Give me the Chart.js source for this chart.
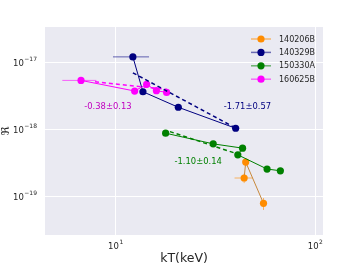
<!DOCTYPE html>
<html>
<head>
<meta charset="utf-8">
<script src="https://cdn.jsdelivr.net/npm/chart.js@4"></script>
<style>
  html, body { margin: 0; padding: 0; background: #ffffff; }
  #wrap { width: 360px; height: 270px; }
</style>
</head>
<body>
<div id="wrap"><canvas id="myChart" width="360" height="270"></canvas></div>
<script>
const grbNames = ['140206B', '140329B', '150330A', '160625B'];
const grbColors = ['#ff8c00', '#000080', '#008000', '#ff00ff'];

// kT (keV) and R for each burst
const kT_140206B = [44.0, 44.8, 55.0];
const R_140206B = [1.88e-19, 3.25e-19, 7.87e-20];
const kTerr_140206B = [4.6, 0, 0];
const Rerr_140206B = [0.3e-19, 0.45e-19, 1.6e-20];

const kT_140329B = [12.2, 13.7, 20.6, 39.9];
const R_140329B = [1.21e-17, 3.65e-18, 2.14e-18, 1.04e-18];
const kTerr_140329B = [2.5, 0, 0, 0];
const Rerr_140329B = [0, 0, 0, 0];

const kT_150330A = [17.8, 30.8, 43.2, 40.9, 57.3, 66.8];
const R_150330A = [8.77e-19, 6.08e-19, 5.25e-19, 4.17e-19, 2.56e-19, 2.41e-19];
const kTerr_150330A = [0, 0, 0, 0, 0, 0];
const Rerr_150330A = [0, 0, 0, 0, 0, 0];

const kT_160625B = [6.71, 12.45, 14.3, 16.0, 18.0];
const R_160625B = [5.39e-18, 3.74e-18, 4.71e-18, 3.78e-18, 3.57e-18];
const kTerr_160625B = [1.3, 0, 0, 0, 0];
const Rerr_160625B = [0, 0, 0, 0, 0];

// dashed power-law fits (end points)
const fitKT_140329B = [12.2, 38.7];
const fitR_140329B = [7.0e-18, 1.10e-18];
const fitKT_150330A = [18.7, 41.0];
const fitR_150330A = [9.27e-19, 4.27e-19];
const fitKT_160625B = [7.88, 18.0];
const fitR_160625B = [5.14e-18, 3.96e-18];

const slopeLabels = ['-1.71\u00b10.57', '-1.10\u00b10.14', '-0.38\u00b10.13'];
const slopeColors = ['#000080', '#008000', '#c000c0'];
const slopeKT = [45.7, 25.9, 9.15];
const slopeR = [2.14e-18, 3.28e-19, 2.18e-18];

const xTicks = [10, 100];
const yTicks = [1e-19, 1e-18, 1e-17];
const xTickExp = ['1', '2'];
const yTickExp = ['\u221219', '\u221218', '\u221217'];

function pts(xs, ys) {
    return xs.map((x, i) => ({x: x, y: ys[i]}));
}

const series = [
    {kT: kT_140206B, R: R_140206B, xe: kTerr_140206B, ye: Rerr_140206B, line: '#c8893c'},
    {kT: kT_140329B, R: R_140329B, xe: kTerr_140329B, ye: Rerr_140329B, line: '#000080'},
    {kT: kT_150330A, R: R_150330A, xe: kTerr_150330A, ye: Rerr_150330A, line: '#008000'},
    {kT: kT_160625B, R: R_160625B, xe: kTerr_160625B, ye: Rerr_160625B, line: '#ff00ff'}
];

const datasets = [];
series.forEach((s, i) => {
    datasets.push({
        label: grbNames[i],
        data: pts(s.kT, s.R),
        showLine: true,
        borderColor: s.line,
        borderWidth: 1,
        backgroundColor: grbColors[i],
        pointBackgroundColor: grbColors[i],
        pointBorderWidth: 0,
        pointRadius: 3.6,
        errX: s.xe,
        errY: s.ye,
        order: 4 - i
    });
});
[[fitKT_140329B, fitR_140329B, '#000080'], [fitKT_150330A, fitR_150330A, '#008000'], [fitKT_160625B, fitR_160625B, '#ff00ff']].forEach(f => {
    datasets.push({
        label: 'fit',
        data: pts(f[0], f[1]),
        showLine: true,
        borderColor: f[2],
        borderWidth: 1.5,
        borderDash: [4, 3],
        pointRadius: 0,
        order: 0
    });
});

function lighten(hex, a) {
    const r = parseInt(hex.slice(1, 3), 16), g = parseInt(hex.slice(3, 5), 16), b = parseInt(hex.slice(5, 7), 16);
    return 'rgba(' + r + ',' + g + ',' + b + ',' + a + ')';
}

const errorBars = {
    id: 'errorBars',
    beforeDatasetsDraw(chart) {
        const ctx = chart.ctx, xs = chart.scales.x, ys = chart.scales.y;
        ctx.save();
        chart.data.datasets.forEach((ds, di) => {
            if (!ds.errX) return;
            ctx.strokeStyle = lighten(grbColors[di], 0.6);
            ctx.lineWidth = 1;
            ds.data.forEach((p, i) => {
                const px = xs.getPixelForValue(p.x), py = ys.getPixelForValue(p.y);
                if (ds.errX[i]) {
                    ctx.beginPath();
                    ctx.moveTo(xs.getPixelForValue(p.x - ds.errX[i]), py);
                    ctx.lineTo(xs.getPixelForValue(p.x + ds.errX[i]), py);
                    ctx.stroke();
                }
                if (ds.errY[i]) {
                    ctx.beginPath();
                    ctx.moveTo(px, ys.getPixelForValue(p.y - ds.errY[i]));
                    ctx.lineTo(px, ys.getPixelForValue(p.y + ds.errY[i]));
                    ctx.stroke();
                }
            });
        });
        ctx.restore();
    }
};

const extras = {
    id: 'extras',
    afterDraw(chart) {
        const ctx = chart.ctx, xs = chart.scales.x, ys = chart.scales.y;
        ctx.save();
        // tick labels as 10 with a raised exponent
        ctx.fillStyle = '#262626';
        ctx.textBaseline = 'alphabetic';
        yTicks.forEach((v, i) => {
            const py = ys.getPixelForValue(v);
            ctx.font = '6px "DejaVu Sans"';
            const ew = ctx.measureText(yTickExp[i]).width;
            ctx.textAlign = 'right';
            ctx.fillText(yTickExp[i], 37, py - 1);
            ctx.font = '8.5px "DejaVu Sans"';
            ctx.fillText('10', 37 - ew - 0.5, py + 3.5);
        });
        xTicks.forEach((v, i) => {
            const px = xs.getPixelForValue(v);
            ctx.font = '8.5px "DejaVu Sans"';
            const bw = ctx.measureText('10').width;
            ctx.font = '6px "DejaVu Sans"';
            const ew = ctx.measureText(xTickExp[i]).width;
            const x0 = px - (bw + ew + 0.5) / 2;
            ctx.textAlign = 'left';
            ctx.font = '8.5px "DejaVu Sans"';
            ctx.fillText('10', x0, 249);
            ctx.font = '6px "DejaVu Sans"';
            ctx.fillText(xTickExp[i], x0 + bw + 0.5, 244);
        });
        // slope annotations
        ctx.font = '8.4px "DejaVu Sans"';
        ctx.textAlign = 'center';
        ctx.textBaseline = 'middle';
        slopeLabels.forEach((t, i) => {
            ctx.fillStyle = slopeColors[i];
            ctx.fillText(t, xs.getPixelForValue(slopeKT[i]), ys.getPixelForValue(slopeR[i]));
        });
        // legend
        const lx = 251, ly = 39, step = 13.4;
        ctx.font = '8px "DejaVu Sans"';
        grbNames.forEach((n, i) => {
            const y = ly + i * step;
            ctx.strokeStyle = lighten(grbColors[i], 0.55);
            ctx.lineWidth = 1.5;
            ctx.beginPath();
            ctx.moveTo(lx, y);
            ctx.lineTo(lx + 20, y);
            ctx.stroke();
            ctx.fillStyle = grbColors[i];
            ctx.beginPath();
            ctx.arc(lx + 10, y, 3.6, 0, Math.PI * 2);
            ctx.fill();
            ctx.fillStyle = '#262626';
            ctx.textAlign = 'left';
            ctx.fillText(n, lx + 28, y + 0.5);
        });
        ctx.restore();
    }
};

const config = {
    type: 'scatter',
    data: {datasets: datasets},
    options: {
        responsive: false,
        animation: false,
        layout: {padding: {left: 0, top: 27, right: 37, bottom: 0}},
        plugins: {
            legend: {display: false},
            tooltip: {enabled: false}
        },
        scales: {
            x: {
                type: 'logarithmic',
                min: 4.43,
                max: 109.2,
                afterBuildTicks: axis => { axis.ticks = xTicks.map(v => ({value: v})); },
                afterFit: axis => { axis.height = 35; },
                ticks: {display: false},
                grid: {color: '#ffffff', lineWidth: 1, drawTicks: false},
                border: {display: false},
                title: {
                    display: true,
                    text: 'kT(keV)',
                    color: '#262626',
                    font: {family: 'DejaVu Sans', size: 12.5},
                    padding: {top: 0, bottom: 4}
                }
            },
            y: {
                type: 'logarithmic',
                min: 2.65e-20,
                max: 3.38e-17,
                afterBuildTicks: axis => { axis.ticks = yTicks.map(v => ({value: v})); },
                afterFit: axis => { axis.width = 45; },
                ticks: {display: false},
                grid: {color: '#ffffff', lineWidth: 1, drawTicks: false},
                border: {display: false},
                title: {
                    display: true,
                    text: '\u211c',
                    color: '#262626',
                    font: {family: 'DejaVu Sans', size: 11},
                    padding: {top: 0, bottom: 2}
                }
            }
        }
    },
    plugins: [errorBars, extras, {
        id: 'bg',
        beforeDraw(chart) {
            const a = chart.chartArea, ctx = chart.ctx;
            ctx.save();
            ctx.fillStyle = '#eaeaf2';
            ctx.fillRect(a.left, a.top, a.right - a.left, a.bottom - a.top);
            ctx.restore();
        }
    }]
};

var myChart = new Chart(document.getElementById('myChart'), config);
</script>
</body>
</html>
